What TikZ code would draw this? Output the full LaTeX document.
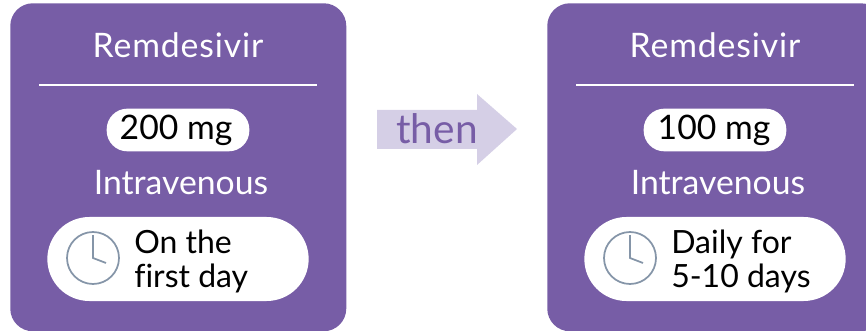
\documentclass[tikz,border=0pt]{standalone}
\usepackage{fontspec}
\setmainfont{Lato}[Ligatures=NoCommon]
\usepackage{tikz}
\usetikzlibrary{positioning}
\usetikzlibrary{calc}
\definecolor{cardpurple}{HTML}{775DA6}
\definecolor{arrowlilac}{HTML}{D5CFE6}
\definecolor{clockgrey}{HTML}{8595A8}
\tikzset{
  card/.style={fill=cardpurple, rounded corners=17pt, minimum width=252pt, minimum height=246pt, inner sep=0pt},
  title/.style={text=white, font=\fontsize{25.3}{27}\selectfont},
  drugname/.style={text=white, font=\fontsize{25.3}{27}\selectfont\addfontfeature{LetterSpace=2.6}},
  dose/.style={fill=white, rounded corners=15.5pt, minimum width=107pt, minimum height=32pt, inner sep=0pt},
  dosetext/.style={text=black, inner sep=0pt, font=\fontsize{25.3}{27}\selectfont},
  timing/.style={fill=white, rounded corners=31.5pt, minimum width=196pt, minimum height=63pt, inner sep=0pt},
  timetext/.style={text=black, align=left, font=\fontsize{24}{25.5}\selectfont, inner sep=0pt},
  clockface/.style={draw=clockgrey, line width=1.3pt, circle, minimum size=39pt, inner sep=0pt},
  clockhand/.style={draw=clockgrey, line width=1.3pt},
  rule/.style={draw=white, line width=1.1pt}
}
\begin{document}
\begin{tikzpicture}[x=0.75pt, y=-0.75pt]
    \useasboundingbox (0,0) rectangle (866,331);
    \clip (0,0) rectangle (866,331);

    % left card
    \node [card, anchor=north west] (a) at (10,3) {};
    \node [drugname] (a1) at (178,45) {Remdesivir};
    \coordinate (a2) at (39,85);
    \coordinate (a3) at (317,85);
    \node [dose] (a4) at (178,130) {};
    \node [dosetext] (a5) at (176,130) {200 mg};
    \node [title] (a6) at (181,183) {Intravenous};
    \node [timing] (a7) at (178,259) {};
    \node [clockface] (a8) at (93,258) {};
    \node [timetext, anchor=west] (a9) at (134,261.5) {On the\\first day};
    \coordinate (a10) at (93,235);
    \coordinate (a11) at (106,263);

    % right card
    \node [card, anchor=north west] (b) at (547,3) {};
    \node [drugname] (b1) at (715,45) {Remdesivir};
    \coordinate (b2) at (576,85);
    \coordinate (b3) at (854,85);
    \node [dose] (b4) at (715,130) {};
    \node [dosetext] (b5) at (714,130) {100 mg};
    \node [title] (b6) at (718,183) {Intravenous};
    \node [timing] (b7) at (715,259) {};
    \node [clockface] (b8) at (630,258) {};
    \node [timetext, anchor=west] (b9) at (671,261.5) {Daily for\\5-10 days};
    \coordinate (b10) at (630,235);
    \coordinate (b11) at (643,263);

    % arrow
    \fill [arrowlilac] (377,110) -- (477,110) -- (477,94) -- (517,129) -- (477,165) -- (477,149) -- (377,149) -- cycle;
    \node [text=cardpurple, font=\fontsize{30.5}{32}\selectfont] (c) at (437,129) {then};

    \draw [rule] (a2) -- (a3);
    \draw [rule] (b2) -- (b3);
    \draw [clockhand] (a10) -- (a10 |- a8) -- (a11);
    \draw [clockhand] (b10) -- (b10 |- b8) -- (b11);
\end{tikzpicture}
\end{document}
